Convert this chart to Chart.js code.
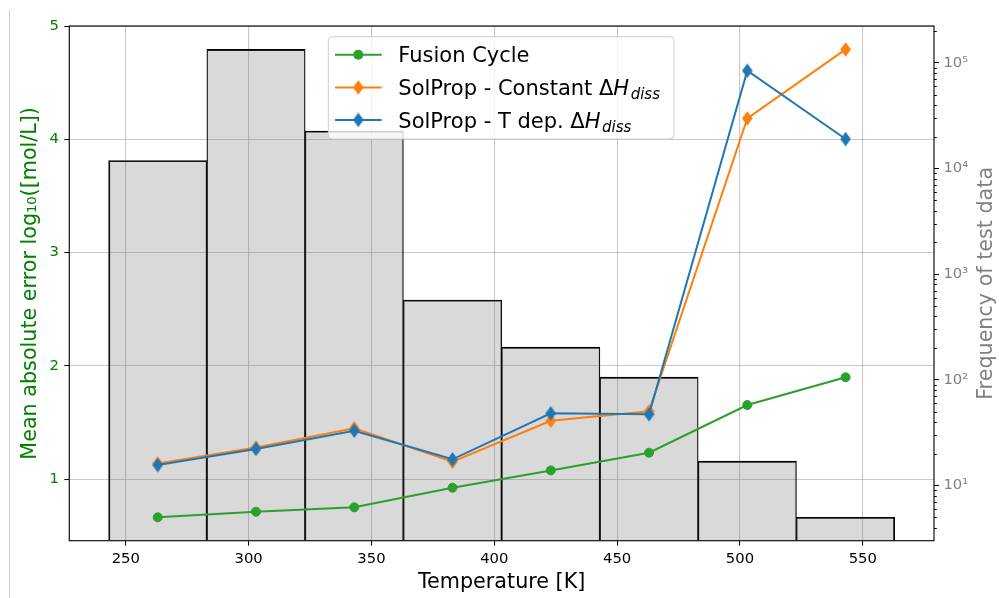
<!DOCTYPE html>
<html><head><meta charset="utf-8">
<script src="https://cdn.jsdelivr.net/npm/chart.js@4.4.0/dist/chart.umd.min.js"></script>
<style>html,body{margin:0;padding:0;background:#fff;} #wrap{width:999px;height:598px;position:relative;}</style>
</head><body><div id="wrap"><canvas id="c" width="999" height="598"></canvas></div>
<script>
// ---- data ----
const temperatures = [263, 303, 343, 383, 423, 463, 503, 543];
const binCenters   = [263, 303, 343, 383, 423, 463, 503, 543];
const binCounts    = [11900, 134000, 22600, 570, 204, 106, 17, 5];
const fusionCycle  = [0.664, 0.713, 0.752, 0.925, 1.078, 1.234, 1.655, 1.90];
const solpropConst = [1.14, 1.28, 1.45, 1.155, 1.516, 1.60, 4.185, 4.794];
const solpropTdep  = [1.125, 1.267, 1.428, 1.176, 1.582, 1.573, 4.606, 4.003];
const xTicks  = [250, 300, 350, 400, 450, 500, 550];
const yTicks  = [1, 2, 3, 4, 5];
const y2Ticks = [10, 100, 1000, 10000, 100000];
const xTitle  = 'Temperature [K]';
const yTitle  = 'Mean absolute error log\u2081\u2080([mol/L])';
const y2Title = 'Frequency of test data';

const C_GREEN = '#2ca02c', C_ORANGE = '#ff7f0e', C_BLUE = '#1f77b4';
const FONT = 'DejaVu Sans';
Chart.defaults.font.family = FONT;

function thinDiamond(color) {
  const w = 11, h = 15;
  const c = document.createElement('canvas');
  c.width = w; c.height = h;
  const g = c.getContext('2d');
  g.fillStyle = color;
  g.beginPath();
  g.moveTo(w/2, 0.2); g.lineTo(w-0.2, h/2); g.lineTo(w/2, h-0.2); g.lineTo(0.2, h/2);
  g.closePath(); g.fill();
  return c;
}
const diamondOrange = thinDiamond(C_ORANGE);
const diamondBlue = thinDiamond(C_BLUE);

const sup = {'0':'\u2070','1':'\u00b9','2':'\u00b2','3':'\u00b3','4':'\u2074','5':'\u2075','6':'\u2076','7':'\u2077','8':'\u2078','9':'\u2079'};
function pow10Label(v) {
  const e = Math.round(Math.log10(v));
  return '10' + String(e).split('').map(d => sup[d]).join('');
}
const pts = (xs, ys) => xs.map((x, i) => ({x: x, y: ys[i]}));

const GRID = 'rgba(176,176,176,0.7)';

const decorPlugin = {
  id: 'decor',
  beforeDraw(chart) {
    const ctx = chart.ctx;
    ctx.save();
    ctx.strokeStyle = '#cfcfcf'; ctx.lineWidth = 1;
    ctx.beginPath(); ctx.moveTo(9.5, 10); ctx.lineTo(9.5, 598); ctx.stroke();
    ctx.restore();
  },
  afterDraw(chart) {
    const ctx = chart.ctx, a = chart.chartArea;
    const y2 = chart.scales.y2;
    ctx.save();
    // minor log ticks
    ctx.strokeStyle = '#000'; ctx.lineWidth = 1;
    for (let n = 0; n <= 5; n++) {
      for (let k = 2; k <= 9; k++) {
        const v = k * Math.pow(10, n);
        if (v < y2.min || v > y2.max) continue;
        const py = Math.round(y2.getPixelForValue(v)) + 0.5;
        ctx.beginPath(); ctx.moveTo(a.right, py); ctx.lineTo(a.right + 2.8, py); ctx.stroke();
      }
    }
    // frame
    ctx.strokeStyle = '#111'; ctx.lineWidth = 1.2;
    ctx.strokeRect(a.left, a.top, a.right - a.left, a.bottom - a.top);
    // right title
    ctx.save();
    ctx.translate(987, (a.top + a.bottom) / 2);
    ctx.rotate(-Math.PI / 2);
    ctx.fillStyle = '#808080';
    ctx.font = '20.7px "' + FONT + '"';
    ctx.textAlign = 'center'; ctx.textBaseline = 'middle';
    ctx.fillText(y2Title, 0, 0);
    ctx.restore();
    // legend
    const lx = 328.3, ly = 36.7, lw = 674 - 328.3, lh = 139 - 36.7;
    ctx.beginPath();
    ctx.roundRect(lx, ly, lw, lh, 4);
    ctx.fillStyle = 'rgba(255,255,255,0.8)';
    ctx.fill();
    ctx.strokeStyle = '#cccccc'; ctx.lineWidth = 1;
    ctx.stroke();
    const rows = [
      {color: C_GREEN, marker: 'circle', base: 62.3,
       parts: [{t: 'Fusion Cycle'}]},
      {color: C_ORANGE, marker: diamondOrange, base: 95,
       parts: [{t: 'SolProp - Constant '}, {t: '\u0394'}, {t: 'H', it: true}, {t: 'diss', it: true, sub: true}]},
      {color: C_BLUE, marker: diamondBlue, base: 127.5,
       parts: [{t: 'SolProp - T dep. '}, {t: '\u0394'}, {t: 'H', it: true}, {t: 'diss', it: true, sub: true}]}
    ];
    rows.forEach(r => {
      const cy = r.base - 7.6;
      ctx.strokeStyle = r.color; ctx.lineWidth = 2;
      ctx.beginPath(); ctx.moveTo(335, cy); ctx.lineTo(381.7, cy); ctx.stroke();
      if (r.marker === 'circle') {
        ctx.fillStyle = r.color;
        ctx.beginPath(); ctx.arc(358.3, cy, 5, 0, Math.PI * 2); ctx.fill();
      } else {
        ctx.drawImage(r.marker, 358.3 - r.marker.width / 2, cy - r.marker.height / 2);
      }
      let x = 398.3;
      ctx.fillStyle = '#000'; ctx.textAlign = 'left'; ctx.textBaseline = 'alphabetic';
      r.parts.forEach(p => {
        const size = p.sub ? 15 : 21;
        ctx.font = (p.it ? 'italic ' : '') + size + 'px "' + FONT + '"';
        ctx.fillText(p.t, x + (p.sub ? 0.5 : 0), r.base + (p.sub ? 4.2 : 0));
        x += ctx.measureText(p.t).width + (p.it && !p.sub ? 1 : 0);
      });
    });
    ctx.restore();
  }
};

const lastBin = binCounts.length - 1;

new Chart(document.getElementById('c'), {
  type: 'bar',
  data: {
    datasets: [
      {
        type: 'line', label: 'SolProp - T dep. \u0394H_diss', data: pts(temperatures, solpropTdep),
        yAxisID: 'y', order: 1, borderColor: C_BLUE, backgroundColor: C_BLUE, borderWidth: 2,
        pointStyle: diamondBlue, pointRadius: 7, tension: 0
      },
      {
        type: 'line', label: 'SolProp - Constant \u0394H_diss', data: pts(temperatures, solpropConst),
        yAxisID: 'y', order: 2, borderColor: C_ORANGE, backgroundColor: C_ORANGE, borderWidth: 2,
        pointStyle: diamondOrange, pointRadius: 7, tension: 0
      },
      {
        type: 'line', label: 'Fusion Cycle', data: pts(temperatures, fusionCycle),
        yAxisID: 'y', order: 3, borderColor: C_GREEN, backgroundColor: C_GREEN, borderWidth: 2,
        pointStyle: 'circle', pointRadius: 4.5, pointBorderWidth: 1, pointBackgroundColor: C_GREEN, pointBorderColor: C_GREEN, tension: 0
      },
      {
        type: 'bar', label: 'Frequency', data: pts(binCenters, binCounts),
        yAxisID: 'y2', order: 4,
        backgroundColor: 'rgba(128,128,128,0.3)', borderColor: '#000',
        borderWidth: ctx => ({
          top: 1.2,
          left: ctx.dataIndex === 0 ? 1.2 : 0.7,
          right: ctx.dataIndex === lastBin ? 1.2 : 0.7,
          bottom: 0
        }),
        barPercentage: 1, categoryPercentage: 1
      }
    ]
  },
  options: {
    responsive: false, animation: false,
    layout: {padding: {top: 26, left: 0, right: 0, bottom: 0}},
    plugins: {legend: {display: false}, tooltip: {enabled: false}},
    scales: {
      x: {
        type: 'linear', position: 'bottom', min: 227, max: 579, offset: false,
        afterBuildTicks: s => { s.ticks = xTicks.map(v => ({value: v})); },
        afterFit: s => { s.height = 57.3; },
        grid: {color: GRID, lineWidth: 1.1, offset: false, drawTicks: true, tickLength: 5, tickColor: '#000', tickWidth: 1},
        border: {display: false},
        ticks: {color: '#000', font: {size: 14.8}, padding: 4.4, maxRotation: 0, autoSkip: false, callback: v => String(v)},
        title: {display: true, text: xTitle, color: '#000', font: {size: 20.7}, padding: {top: 0, bottom: 2.6}}
      },
      y: {
        type: 'linear', position: 'left', min: 0.4575, max: 5.0005,
        afterBuildTicks: s => { s.ticks = yTicks.map(v => ({value: v})); },
        afterFit: s => { s.width = 69.3; },
        grid: {color: GRID, lineWidth: 1.1, drawTicks: true, tickLength: 5, tickColor: '#000', tickWidth: 1},
        border: {display: false},
        ticks: {color: '#008000', font: {size: 14.8}, padding: 5.5, callback: v => String(v)},
        title: {display: true, text: yTitle, color: '#008000', font: {size: 20.7}, padding: {top: 18.6, bottom: 0}}
      },
      y2: {
        type: 'logarithmic', position: 'right', min: 3.003, max: 223100,
        afterBuildTicks: s => { s.ticks = y2Ticks.map(v => ({value: v})); },
        afterFit: s => { s.width = 65; },
        grid: {drawOnChartArea: false, drawTicks: true, tickLength: 5, tickColor: '#000', tickWidth: 1},
        border: {display: false},
        ticks: {color: '#808080', font: {size: 14.8}, padding: 4.4, callback: v => pow10Label(v)}
      }
    }
  },
  plugins: [decorPlugin]
});
</script>
</body></html>
